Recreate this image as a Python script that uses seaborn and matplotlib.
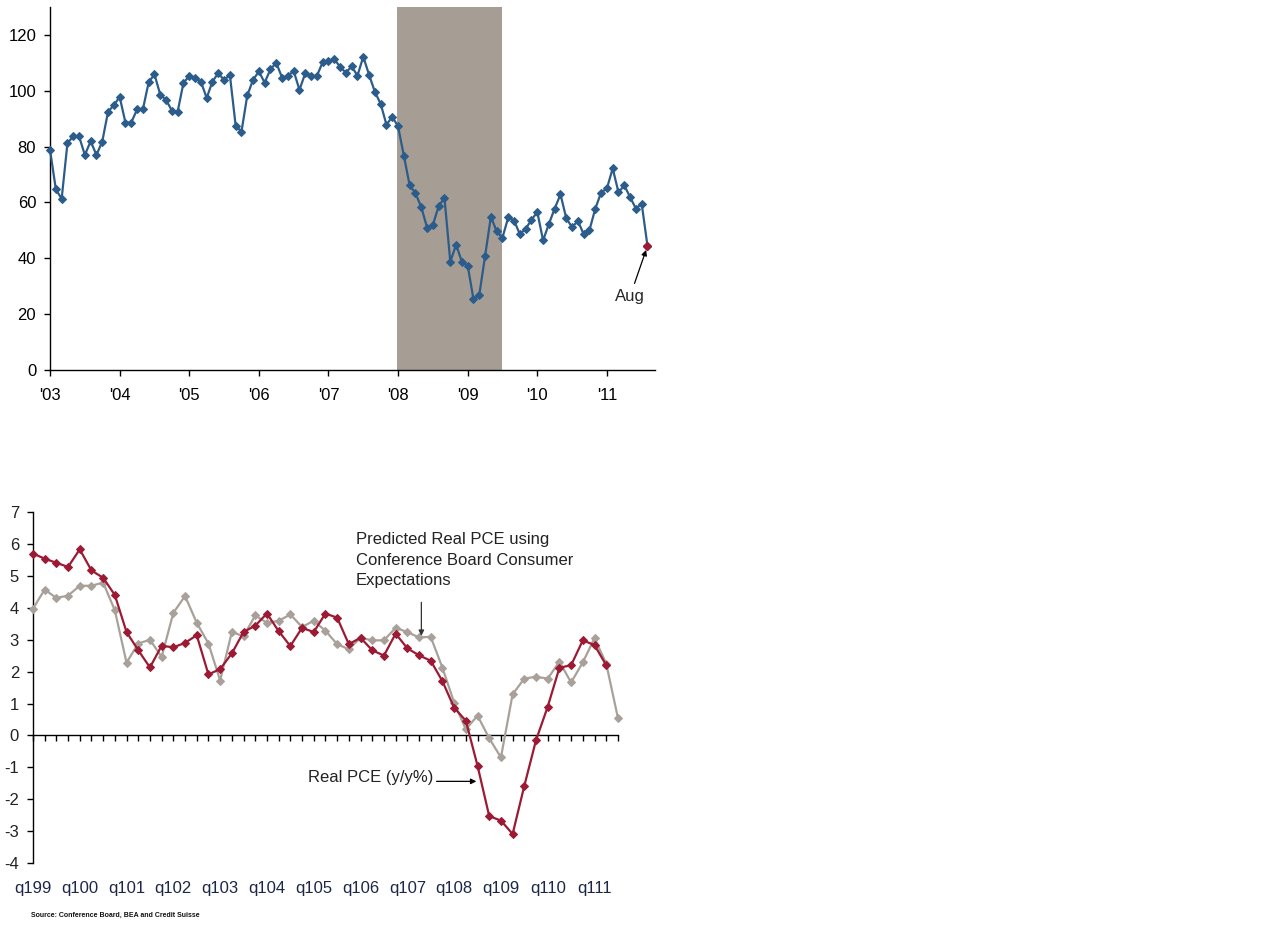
import numpy as np
import pandas as pd
import seaborn as sns
import matplotlib.pyplot as plt

# Conference Board consumer expectations, monthly Jan 2003 - Aug 2011
expectations = [
    78.8, 64.7, 61.3, 81.2, 83.7, 83.7, 77.0, 81.9, 77.0, 81.8, 92.5, 94.8,
    97.8, 88.6, 88.6, 93.3, 93.3, 103.0, 105.9, 98.6, 96.7, 92.9, 92.5, 102.8,
    105.3, 104.7, 103.3, 97.4, 103.3, 106.3, 103.8, 105.7, 87.5, 85.3, 98.3, 103.9,
    106.9, 102.9, 107.7, 110.0, 104.7, 105.3, 107.1, 100.3, 106.3, 105.3, 105.3, 110.2,
    110.7, 111.4, 108.5, 106.5, 108.7, 105.4, 112.2, 105.7, 99.6, 95.3, 87.8, 90.7,
    87.2, 76.7, 66.1, 63.3, 58.3, 51.0, 51.9, 58.7, 61.6, 38.8, 44.8, 38.8,
    37.4, 25.3, 26.9, 40.8, 54.9, 49.6, 47.4, 54.7, 53.5, 48.6, 50.6, 53.7,
    56.6, 46.4, 52.3, 57.8, 62.9, 54.3, 51.1, 53.4, 48.6, 50.1, 57.8, 63.5,
    65.0, 72.2, 63.6, 66.1, 61.9, 57.8, 59.5, 44.4,
]
start_year = 2003
year_ticks = list(range(2003, 2012))
year_labels = ["'03", "'04", "'05", "'06", "'07", "'08", "'09", "'10", "'11"]
recession = (2007.99, 2009.5)

# Quarterly, q1 1999 onwards
real_pce = [
    5.70, 5.54, 5.41, 5.28, 5.83, 5.17, 4.94, 4.40, 3.24, 2.67,
    2.13, 2.81, 2.76, 2.90, 3.14, 1.91, 2.08, 2.57, 3.24, 3.44,
    3.82, 3.27, 2.80, 3.37, 3.24, 3.82, 3.69, 2.86, 3.06, 2.67,
    2.50, 3.19, 2.73, 2.51, 2.34, 1.70, 0.87, 0.46, -0.95, -2.53,
    -2.67, -3.09, -1.58, -0.15, 0.90, 2.12, 2.20, 2.98, 2.83, 2.20,
]
predicted_pce = [
    3.97, 4.57, 4.31, 4.38, 4.69, 4.69, 4.79, 3.92, 2.28, 2.88,
    3.00, 2.46, 3.84, 4.37, 3.53, 2.88, 1.72, 3.24, 3.11, 3.76,
    3.53, 3.59, 3.79, 3.40, 3.59, 3.28, 2.86, 2.70, 3.06, 2.98,
    2.98, 3.37, 3.24, 3.07, 3.09, 2.12, 1.03, 0.19, 0.62, -0.09,
    -0.69, 1.29, 1.78, 1.84, 1.78, 2.31, 1.66, 2.29, 3.05, 2.25,
    0.55,
]
quarter_labels = ["q199", "q100", "q101", "q102", "q103", "q104",
                  "q105", "q106", "q107", "q108", "q109", "q110", "q111"]

BLUE = "#2b5c8b"
RED = "#9c1a33"
GREY = "#a9a199"
SHADE = "#a69d94"

sns.set_style("white")
plt.rcParams["font.family"] = ["Liberation Sans", "DejaVu Sans"]
plt.rcParams["axes.unicode_minus"] = False

fig = plt.figure(figsize=(12.67, 9.3), dpi=100)

# %% top panel: expectations index
ax1 = fig.add_axes([0.0395, 0.6022, 0.4775, 0.3903])
df1 = pd.DataFrame({"t": start_year + np.arange(len(expectations)) / 12,
                    "v": expectations})
ax1.axvspan(*recession, color=SHADE, lw=0, zorder=0)
sns.lineplot(data=df1, x="t", y="v", ax=ax1, color=BLUE, lw=1.6,
             marker="D", markersize=4.3, markeredgecolor=BLUE, zorder=3,
             clip_on=False)
last = df1.iloc[-1]
ax1.plot(last["t"], last["v"], "D", color=RED, markersize=4.3, zorder=4,
         clip_on=False)
ax1.annotate("Aug", xy=(last["t"], last["v"]), xytext=(2011.33, 26.2),
             ha="center", va="center", fontsize=12,
             arrowprops=dict(arrowstyle="-|>", color="black", lw=0.9,
                             shrinkA=2, shrinkB=3, mutation_scale=8))
ax1.set_xlim(2003, 2003 + 104.3 / 12)
ax1.set_ylim(0, 130)
ax1.set_yticks(range(0, 121, 20))
ax1.set_xticks(year_ticks)
ax1.set_xticklabels(year_labels)
ax1.set_xlabel("")
ax1.set_ylabel("")
for s in ["top", "right"]:
    ax1.spines[s].set_visible(False)
for s in ["left", "bottom"]:
    ax1.spines[s].set_color("black")
    ax1.spines[s].set_linewidth(1.0)
ax1.tick_params(axis="both", direction="out", length=4, width=1.0,
                color="black", labelsize=12, labelcolor="black",
                bottom=True, left=True)
ax1.tick_params(axis="x", pad=9)
ax1.tick_params(axis="y", pad=6)

# %% bottom panel: real PCE vs predicted
ax2 = fig.add_axes([0.026, 0.072, 0.4617, 0.3774])
df_pred = pd.DataFrame({"q": np.arange(len(predicted_pce)), "v": predicted_pce})
df_real = pd.DataFrame({"q": np.arange(len(real_pce)), "v": real_pce})
sns.lineplot(data=df_pred, x="q", y="v", ax=ax2, color=GREY, lw=1.6,
             marker="D", markersize=4.3, markeredgecolor=GREY, zorder=3,
             clip_on=False)
sns.lineplot(data=df_real, x="q", y="v", ax=ax2, color=RED, lw=1.6,
             marker="D", markersize=4.3, markeredgecolor=RED, zorder=4,
             clip_on=False)
ax2.set_xlim(0, len(predicted_pce) - 1)
ax2.set_ylim(-4, 7)
ax2.set_yticks(range(-4, 8))
ax2.set_xticks(range(len(predicted_pce)))
ax2.set_xticklabels([])
ax2.set_xlabel("")
ax2.set_ylabel("")
ax2.spines["bottom"].set_position(("data", 0))
for s in ["top", "right"]:
    ax2.spines[s].set_visible(False)
for s in ["left", "bottom"]:
    ax2.spines[s].set_color("black")
    ax2.spines[s].set_linewidth(1.0)
ax2.tick_params(axis="both", direction="out", length=4, width=1.0,
                color="black", labelsize=12, labelcolor="#222222",
                bottom=True, left=True)
ax2.tick_params(axis="y", pad=6)

sec = ax2.secondary_xaxis(0.0)
sec.set_xticks(range(0, len(quarter_labels) * 4, 4))
sec.set_xticklabels(quarter_labels)
sec.tick_params(length=0, pad=13, labelsize=12, labelcolor="#1c2748")
sec.spines["bottom"].set_visible(False)

ax2.text(27.6, 6.36, "Predicted Real PCE using\nConference Board Consumer\nExpectations",
         ha="left", va="top", fontsize=12, color="#222222", linespacing=1.42)
ax2.annotate("", xy=(33.2, 3.12), xytext=(33.2, 4.17),
             arrowprops=dict(arrowstyle="-|>", color="#333333", lw=0.9,
                             shrinkA=0, shrinkB=0, mutation_scale=8))
ax2.text(23.5, -1.32, "Real PCE (y/y%)", ha="left", va="center",
         fontsize=12, color="#222222")
ax2.annotate("", xy=(37.9, -1.44), xytext=(34.5, -1.44),
             arrowprops=dict(arrowstyle="-|>", color="black", lw=0.9,
                             shrinkA=0, shrinkB=0, mutation_scale=8))

fig.text(0.0245, 0.016, "Source: Conference Board, BEA and Credit Suisse",
         fontsize=5, fontweight="bold", color="#111111", va="center")

fig.savefig("out.png", dpi=100)
